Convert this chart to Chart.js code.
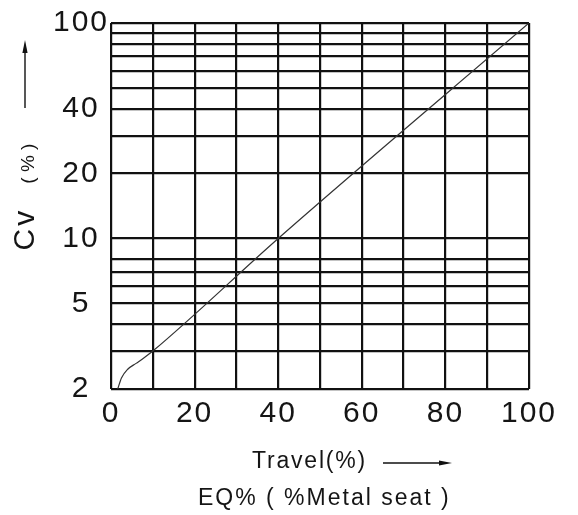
<!DOCTYPE html>
<html>
<head>
<meta charset="utf-8">
<script src="https://cdn.jsdelivr.net/npm/chart.js@4/dist/chart.umd.min.js"></script>
<style>
  html, body { margin: 0; padding: 0; background: #fff; overflow: hidden; }
  #wrap { position: relative; width: 578px; height: 515px; }
  #chart { position: absolute; left: 0; top: 0; }
  .lbl { position: absolute; white-space: nowrap; color: #151515;
         font-family: "Liberation Sans", Arial, sans-serif; line-height: 23px; }
  svg { position: absolute; left: 0; top: 0; }
</style>
</head>
<body>
<div id="wrap">
  <canvas id="chart" width="578" height="515"></canvas>
  <svg width="578" height="515">
    <line x1="25" y1="108" x2="25" y2="50" stroke="#111" stroke-width="1.4"/>
    <polygon points="25,40 22.4,53 27.6,53" fill="#111"/>
    <line x1="383" y1="463" x2="442" y2="463" stroke="#111" stroke-width="1.4"/>
    <polygon points="452,463 439,460.6 439,465.4" fill="#111"/>
  </svg>
  <div class="lbl" style="left:24px; top:197px; transform: translate(-50%,-50%) rotate(-90deg); line-height:normal;">
    <span style="font-size:30px; letter-spacing:3px;">Cv</span><span style="font-size:19px; margin-left:24px; letter-spacing:0px;">( % )</span>
  </div>
  <div class="lbl" style="left:252px; top:449px; font-size:23px; letter-spacing:1.8px;">Travel(%)</div>
  <div class="lbl" style="left:198px; top:486px; font-size:23px; letter-spacing:2px;">EQ% ( %Metal seat )</div>
</div>
<script>
// travel (%) vs Cv (%)
var travel = [1.6, 2.5, 4, 6, 8, 10, 40, 100];
var cv = [2, 2.25, 2.47, 2.63, 2.8, 3, 10, 100];

// gridlines on the log axis (no line at 9 in the original)
var yGrid = [2, 3, 4, 5, 6, 7, 8, 10, 20, 30, 40, 50, 60, 70, 80, 90, 100];
var yLabels = [2, 5, 10, 20, 40, 100];
var xLabels = [0, 20, 40, 60, 80, 100];

var tickFont = { family: '"Liberation Sans", Arial, sans-serif', size: 30 };

var spacing = {
    id: 'spacing',
    beforeDraw: function(chart) { chart.ctx.letterSpacing = '2px'; }
};

var ctx = document.getElementById('chart').getContext('2d');
var myChart = new Chart(ctx, {
    type: 'line',
    data: {
        datasets: [{
            data: travel.map(function(x, i) { return { x: x, y: cv[i] }; }),
            borderColor: '#333',
            borderWidth: 1.2,
            pointRadius: 0,
            cubicInterpolationMode: 'monotone',
            fill: false
        }]
    },
    options: {
        responsive: false,
        animation: false,
        layout: { padding: { top: 19, right: 49, left: 0, bottom: 0 } },
        plugins: { legend: { display: false }, tooltip: { enabled: false } },
        scales: {
            x: {
                type: 'linear',
                min: 0,
                max: 100,
                grid: { color: '#111', lineWidth: 2.2, drawTicks: false },
                border: { display: false },
                ticks: {
                    stepSize: 10,
                    autoSkip: false,
                    maxRotation: 0,
                    padding: 7,
                    color: '#151515',
                    font: tickFont,
                    callback: function(v) { return xLabels.indexOf(v) >= 0 ? String(v) : ''; }
                },
                afterFit: function(s) { s.height = 126; }
            },
            y: {
                type: 'logarithmic',
                min: 2,
                max: 100,
                grid: { color: '#111', lineWidth: 2.2, drawTicks: false },
                border: { display: false },
                afterBuildTicks: function(s) {
                    s.ticks = yGrid.map(function(v) { return { value: v }; });
                },
                ticks: {
                    autoSkip: false,
                    padding: 5,
                    crossAlign: 'center',
                    color: '#151515',
                    font: tickFont,
                    callback: function(v) { return yLabels.indexOf(v) >= 0 ? String(v) : ''; }
                },
                afterFit: function(s) { s.width = 111; }
            }
        }
    },
    plugins: [spacing]
});
</script>
</body>
</html>
